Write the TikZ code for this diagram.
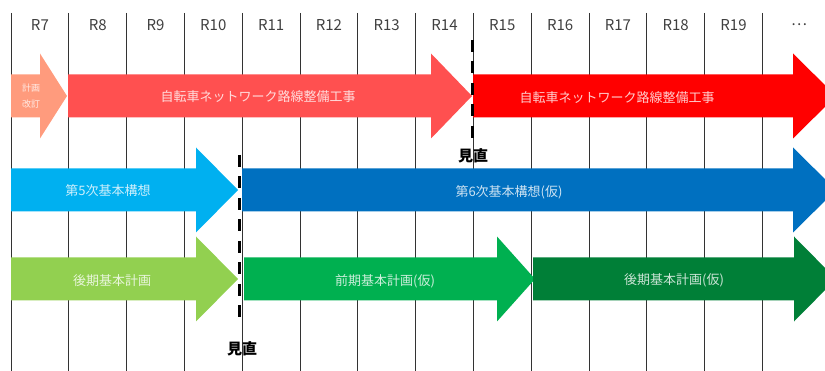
\documentclass[tikz,border=0pt]{standalone}
\usepackage{fontspec}
\setmainfont{Noto Sans CJK JP}
\usetikzlibrary{positioning,calc}
\definecolor{planorange}{HTML}{FF9B7D}
\definecolor{roadred}{HTML}{FF5050}
\definecolor{roadredtwo}{HTML}{FF0000}
\definecolor{visionlight}{HTML}{00B0F0}
\definecolor{visiondark}{HTML}{0070C0}
\definecolor{planlight}{HTML}{92D050}
\definecolor{planmid}{HTML}{00B050}
\definecolor{plandark}{HTML}{007F37}
\tikzset{yearlab/.style={text=black!75,inner sep=0pt,font=\fontsize{15}{15}\selectfont},
	barlab/.style={text=white,text opacity=0.8,inner sep=0pt,font=\fontsize{13}{13}\selectfont},
	smalllab/.style={text=white,text opacity=0.8,inner sep=0pt,font=\fontsize{9}{9}\selectfont},
	reviewline/.style={line width=3pt,dash pattern=on 12pt off 9.5pt},
	reviewlab/.style={inner sep=0pt,font=\fontsize{15}{15}\selectfont\bfseries},
	gridline/.style={black!80,line width=0.9pt}}
% arrow: colour, tail x, head x, tip x, centre y
\newcommand{\phasearrow}[5]{%
	\fill[#1] (#2,#5-21.5) -- (#3,#5-21.5) -- (#3,#5-42.5) -- (#4,#5)
	-- (#3,#5+42.5) -- (#3,#5+21.5) -- (#2,#5+21.5) -- cycle;}
\begin{document}
\begin{tikzpicture}[x=1pt,y=-1pt]
	\useasboundingbox (0,0) rectangle (825,371);
	\clip (0,0) rectangle (825,371);
	
	% years
	\foreach \k in {0,...,13}
	\draw[gridline] ({11+57.8*\k},13) -- ({11+57.8*\k},371);
	\foreach \i [count=\k from 0] in {7,...,19}
	\node[yearlab] (yr\i) at ({11+57.8*(\k+0.5)},25) {R\i};
	\node[yearlab] (yrmore) at (799,25) {…};
	
	% road works
	\phasearrow{planorange}{11}{40}{67}{96}
	\phasearrow{roadred}{68}{431}{472}{96}
	\phasearrow{roadredtwo}{473}{793}{836}{96}
	\node[smalllab] (revise1) at (31,88) {計画};
	\node[smalllab, below=7pt of revise1] (revise2) {改訂};
	\node[barlab] (road1) at (258,97) {自転車ネットワーク路線整備工事};
	\node[barlab] (road2) at (617,98) {自転車ネットワーク路線整備工事};
	
	% vision
	\phasearrow{visionlight}{11}{196}{238}{190}
	\phasearrow{visiondark}{242}{793}{836}{190}
	\node[barlab] (vision5) at (108,191) {第5次基本構想};
	\node[barlab] (vision6) at (509,192) {第6次基本構想(仮)};
	
	% plans
	\phasearrow{planlight}{11}{196}{238}{279}
	\phasearrow{planmid}{244}{497}{535}{279}
	\phasearrow{plandark}{533}{794}{836}{279}
	\node[barlab] (plan1) at (112,281) {後期基本計画};
	\node[barlab] (plan2) at (385,281) {前期基本計画(仮)};
	\node[barlab] (plan3) at (674,280) {後期基本計画(仮)};
	
	% reviews
	\node[reviewlab] (review1) at (473,156) {見直};
	\node[reviewlab] (review2) at (242,349) {見直};
	\coordinate (review1top) at (472,40);
	\coordinate (review2top) at (239,155);
	\draw[reviewline] (review1top) -- (review1top |- 0,142);
	\draw[reviewline] (review2top) -- (review2top |- 0,322);
\end{tikzpicture}
\end{document}
